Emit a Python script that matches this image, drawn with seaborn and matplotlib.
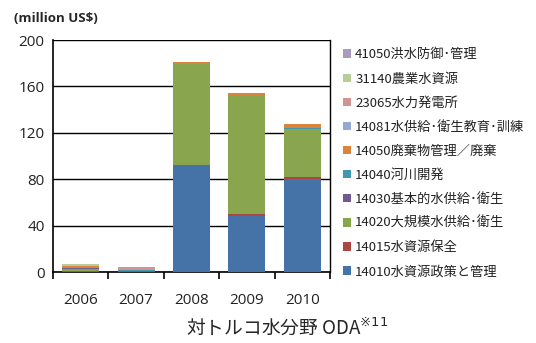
import numpy as np
import pandas as pd
import seaborn as sns
import matplotlib
matplotlib.use("Agg")
import matplotlib.pyplot as plt
from matplotlib.patches import Patch

years = ["2006", "2007", "2008", "2009", "2010"]
series_names = ["14010水資源政策と管理", "14015水資源保全", "14020大規模水供給･衛生",
                "14030基本的水供給･衛生", "14040河川開発", "14050廃棄物管理／廃棄",
                "14081水供給･衛生教育･訓練", "23065水力発電所", "31140農業水資源",
                "41050洪水防御･管理"]
s14010 = [0.5, 0.8, 92.0, 48.0, 80.0]
s14015 = [0.0, 0.0, 0.3, 2.0, 1.5]
s14020 = [2.5, 0.0, 87.0, 103.0, 41.5]
s14030 = [0.3, 0.0, 0.0, 0.0, 0.0]
s14040 = [0.3, 0.5, 0.0, 0.0, 1.0]
s14050 = [1.5, 0.0, 1.5, 1.5, 4.0]
s14081 = [0.0, 1.5, 0.0, 0.0, 0.0]
s23065 = [0.0, 1.5, 0.0, 0.0, 0.0]
s31140 = [1.5, 0.0, 0.0, 0.0, 0.0]
s41050 = [0.0, 0.0, 0.0, 0.0, 0.0]
series_values = [s14010, s14015, s14020, s14030, s14040, s14050, s14081, s23065, s31140, s41050]
colors = ["#4572A7", "#AA4643", "#89A54E", "#71588F", "#4198AF", "#DB843D",
          "#93A9CF", "#D19392", "#B9CD96", "#A99BBD"]

sns.set_theme(style="ticks")
plt.rcParams['font.family'] = ['Noto Sans CJK JP', 'DejaVu Sans']

fig = plt.figure(figsize=(5.36, 3.43), dpi=100)
ax = fig.add_axes([53/536, 1-272/343, (330-53)/536, (272-40)/343])

cum = np.cumsum(np.array(series_values), axis=0)
for i in range(len(series_names) - 1, -1, -1):
    df = pd.DataFrame({"year": years, "value": cum[i]})
    sns.barplot(data=df, x="year", y="value", color=colors[i], width=0.67,
                saturation=1, ax=ax, edgecolor="none", linewidth=0, zorder=3)

ax.set_ylim(0, 200)
ax.set_xlim(-0.5, 4.5)
ax.set_yticks(range(0, 201, 40))
ax.yaxis.grid(True, color="black", linewidth=1.0)
ax.set_axisbelow(True)
ax.set_xlabel("")
ax.set_ylabel("")
ax.spines["top"].set_visible(False)
for s in ["left", "bottom", "right"]:
    ax.spines[s].set_visible(True)
    ax.spines[s].set_color("black")
ax.spines["left"].set_linewidth(1.2)
ax.spines["bottom"].set_linewidth(1.2)
ax.spines["right"].set_linewidth(1.0)

# major ticks at category boundaries (marks only), minor ticks carry the year labels
ax.set_xticks(np.arange(-0.5, 5.0, 1.0), labels=[""] * 6)
ax.set_xticks(range(len(years)), labels=years, minor=True)
ax.tick_params(axis="x", which="major", bottom=True, length=5, width=1.2,
               color="black", direction="out")
ax.tick_params(axis="x", which="minor", bottom=True, length=0, labelsize=11,
               pad=15, labelcolor="#222222")
ax.tick_params(axis="y", labelsize=11, length=0, pad=6, labelcolor="#222222")
for t in ax.get_yticklabels() + ax.get_xticklabels(minor=True):
    t.set_family(['Open Sans', 'DejaVu Sans'])

fig.text(14/536, 1-18/343, "(million US$)", fontsize=9.5, fontweight="bold",
         family=['Open Sans', 'DejaVu Sans'], va="center", ha="left")

handles = [Patch(facecolor=colors[i], edgecolor="none") for i in range(len(series_names) - 1, -1, -1)]
labels = [series_names[i] for i in range(len(series_names) - 1, -1, -1)]
leg = fig.legend(handles, labels, loc="upper left", bbox_to_anchor=(338/536, 1-43/343),
                 frameon=False, fontsize=9.5, handlelength=0.6, handleheight=0.6,
                 handletextpad=0.3, labelspacing=0.84, borderaxespad=0)
for t in leg.get_texts():
    t.set_color("#222222")

fig.text(287/536, 1-328/343, "対トルコ水分野 ODA$^{※11}$", fontsize=13.5, ha="center", va="center")

fig.savefig("out.png", dpi=100)
